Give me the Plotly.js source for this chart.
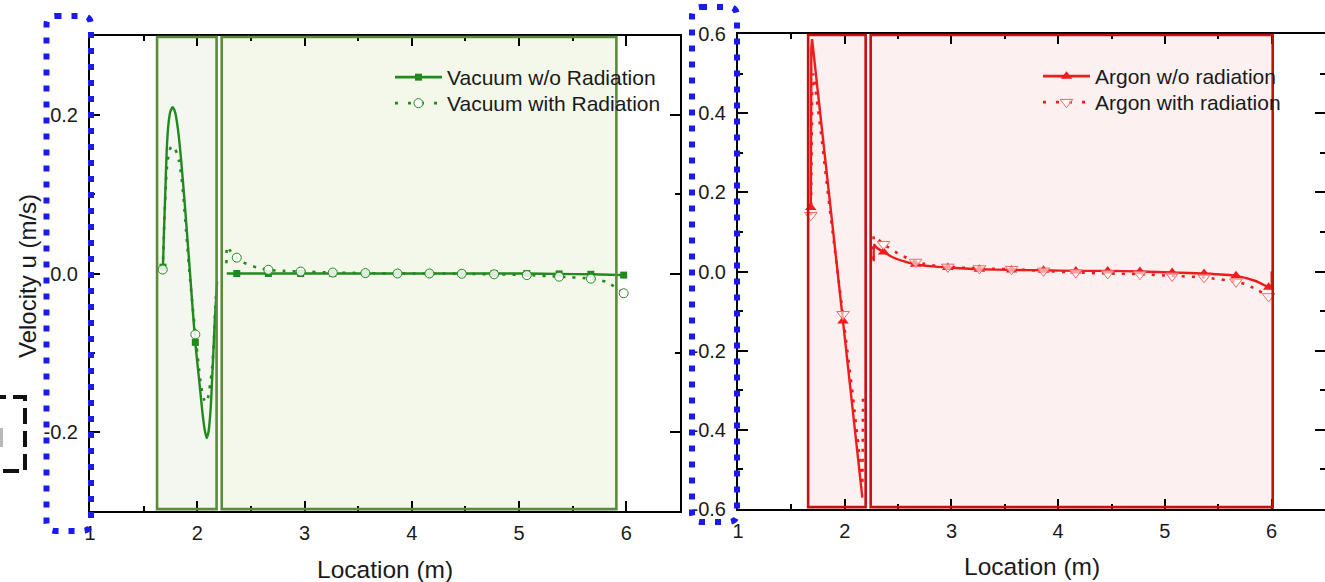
<!DOCTYPE html>
<html><head><meta charset="utf-8">
<script src="https://cdn.plot.ly/plotly-3.0.1.min.js"></script>
<style>html,body{margin:0;padding:0;background:#fff;}#chart{width:1325px;height:582px;}</style>
</head><body><div id="chart"></div>
<script>
// ---------- Left panel: Vacuum ----------
const vacNoRadSeg1X = [1.680,1.690,1.700,1.715,1.730,1.750,1.771,1.795,1.820,1.845,1.880,1.930,1.980,2.020,2.050,2.070,2.088,2.105,2.125,2.145,2.165,2.185];
const vacNoRadSeg1Y = [0.008,0.055,0.094,0.155,0.187,0.205,0.210,0.203,0.182,0.150,0.094,0.005,-0.085,-0.138,-0.178,-0.198,-0.208,-0.200,-0.170,-0.115,-0.055,-0.010];
const vacNoRadSeg2X = [2.275,2.368,2.663,2.964,3.263,3.567,3.866,4.164,4.466,4.767,5.072,5.373,5.669,5.850,5.975];
const vacNoRadSeg2Y = [0.000,0.000,0.000,0.000,0.000,0.000,0.000,0.000,0.000,0.000,0.000,-0.0005,-0.001,-0.0015,-0.002];
const vacNoRadMarkX = [1.680,1.982,2.368,2.663,2.964,3.263,3.567,3.866,4.164,4.466,4.767,5.072,5.373,5.669,5.975];
const vacNoRadMarkY = [0.008,-0.087,0.000,0.000,0.000,0.000,0.000,0.000,0.000,0.000,0.000,0.000,-0.0005,-0.001,-0.002];

const vacRadSeg1X = [1.678,1.688,1.697,1.706,1.718,1.735,1.755,1.771,1.790,1.810,1.830,1.850,1.870,1.895,1.935,1.982,2.010,2.035,2.060,2.080,2.100,2.120,2.140,2.155,2.165,2.175];
const vacRadSeg1Y = [0.005,0.045,0.080,0.110,0.135,0.152,0.160,0.161,0.158,0.152,0.142,0.125,0.098,0.055,-0.010,-0.077,-0.113,-0.142,-0.158,-0.163,-0.157,-0.140,-0.117,-0.085,-0.053,-0.025];
const vacRadSeg2X = [2.272,2.278,2.300,2.330,2.368,2.430,2.555,2.663,2.800,2.964,3.263,3.567,3.866,4.164,4.466,4.767,5.072,5.373,5.669,5.820,5.975];
const vacRadSeg2Y = [0.013,0.034,0.030,0.025,0.020,0.014,0.0076,0.0046,0.0033,0.0025,0.0012,0.0005,0.000,0.000,-0.0003,-0.001,-0.002,-0.004,-0.0065,-0.011,-0.025];
const vacRadMarkX = [1.678,1.982,2.368,2.663,2.964,3.263,3.567,3.866,4.164,4.466,4.767,5.072,5.373,5.669,5.975];
const vacRadMarkY = [0.005,-0.077,0.020,0.0046,0.0025,0.0012,0.0005,0.000,0.000,-0.0003,-0.001,-0.002,-0.004,-0.0065,-0.025];

// ---------- Right panel: Argon ----------
const arNoRadSeg1X = [1.682,1.683,1.687,1.694,1.705,1.800,1.900,1.984,2.080,2.165];
const arNoRadSeg1Y = [0.162,0.450,0.565,0.587,0.560,0.328,0.082,-0.125,-0.360,-0.571];
const arNoRadSeg2X = [2.272,2.276,2.300,2.364,2.450,2.550,2.664,2.800,2.966,3.262,3.563,3.863,4.165,4.464,4.766,5.068,5.367,5.666,5.850,5.972,5.995,6.000];
const arNoRadSeg2Y = [0.026,0.068,0.060,0.0495,0.036,0.026,0.0184,0.0135,0.010,0.0058,0.004,0.003,0.0015,0.0015,0.000,-0.0025,-0.005,-0.011,-0.024,-0.040,-0.042,0.000];
const arNoRadMarkX = [1.682,1.984,2.364,2.664,2.966,3.262,3.563,3.863,4.165,4.464,4.766,5.068,5.367,5.666,5.972];
const arNoRadMarkY = [0.162,-0.125,0.0495,0.0184,0.010,0.0058,0.004,0.003,0.0015,0.0015,0.000,-0.0025,-0.005,-0.011,-0.040];

const arRadSeg1X = [1.684,1.688,1.695,1.705,1.715,1.740,1.780,1.850,1.984,2.070,2.120,2.155,2.166,2.172];
const arRadSeg1Y = [0.142,0.350,0.460,0.500,0.490,0.430,0.345,0.180,-0.108,-0.300,-0.420,-0.510,-0.540,-0.310];
const arRadSeg2X = [2.270,2.275,2.300,2.364,2.498,2.607,2.664,2.730,2.857,2.966,3.262,3.563,3.863,4.165,4.464,4.766,5.068,5.367,5.666,5.754,5.862,5.972];
const arRadSeg2Y = [0.030,0.090,0.085,0.069,0.046,0.031,0.024,0.020,0.014,0.0116,0.0076,0.0058,0.0015,-0.0025,-0.005,-0.0068,-0.011,-0.015,-0.026,-0.032,-0.046,-0.063];
const arRadMarkX = [1.682,1.984,2.364,2.664,2.966,3.262,3.563,3.863,4.165,4.464,4.766,5.068,5.367,5.666,5.972];
const arRadMarkY = [0.142,-0.108,0.069,0.024,0.0116,0.0076,0.0058,0.0015,-0.0025,-0.005,-0.0068,-0.011,-0.015,-0.026,-0.063];

// ---------- Shaded regions (x extents) ----------
const vacRegionStart = [1.625, 2.228];
const vacRegionEnd   = [2.180, 5.907];
const arRegionStart  = [1.657, 2.243];
const arRegionEnd    = [2.196, 6.010];

// ---------- Ticks & labels ----------
const leftYTicks = [-0.2, 0.0, 0.2];
const leftYTickText = ["-0.2", "0.0", "0.2"];
const rightYTicks = [-0.6, -0.4, -0.2, 0.0, 0.2, 0.4, 0.6];
const rightYTickText = ["-0.6", "-0.4", "-0.2", "0.0", "0.2", "0.4", "0.6"];
const seriesNames = ["Vacuum w/o Radiation", "Vacuum with Radiation", "Argon w/o radiation", "Argon with radiation"];
const xTitle = "Location (m)";
const yTitle = "Velocity u (m/s)";

// ---------- Styling ----------
const W = 1325, H = 582;
const FONT = "Arial, 'Liberation Sans', sans-serif";
const GREEN = "#22891f";
const RED = "#f01c1c";
const REDLIGHT = "#ee6a6a";
const DOT = "3px,7px";
const TXT = "#1a1a1a";

function line(x, y, xa, ya, color, dash, shape) {
  return {x: x, y: y, xaxis: xa, yaxis: ya, mode: "lines", showlegend: false, hoverinfo: "skip",
          line: {color: color, width: dash ? 2.6 : 2.4, dash: dash || "solid", shape: shape || "spline", smoothing: 0.6}};
}
function marks(x, y, xa, ya, marker) {
  return {x: x, y: y, xaxis: xa, yaxis: ya, mode: "markers", showlegend: false, hoverinfo: "skip", marker: marker};
}
function legendItem(name, legend, panel, lineStyle, marker) {
  return {x: [null], y: [null], name: name, legend: legend, mode: "lines+markers", showlegend: true,
          line: lineStyle, marker: marker, xaxis: panel === 1 ? "x" : "x2", yaxis: panel === 1 ? "y" : "y2"};
}

const mSquare = {symbol: "square", size: 7, color: GREEN, line: {width: 0}};
const mCircle = {symbol: "circle", size: 9, color: "rgba(255,255,255,0.85)", line: {color: GREEN, width: 1}};
const mTriUp = {symbol: "triangle-up", size: 10, color: RED, line: {width: 0}};
const mTriDown = {symbol: "triangle-down", size: 11, color: "rgba(255,255,255,0.6)", line: {color: REDLIGHT, width: 1}};

const traces = [
  line(vacRadSeg1X, vacRadSeg1Y, "x", "y", GREEN, DOT),
  line(vacRadSeg2X, vacRadSeg2Y, "x", "y", GREEN, DOT),
  line(vacNoRadSeg1X, vacNoRadSeg1Y, "x", "y", GREEN),
  line(vacNoRadSeg2X, vacNoRadSeg2Y, "x", "y", GREEN),
  marks(vacNoRadMarkX, vacNoRadMarkY, "x", "y", mSquare),
  marks(vacRadMarkX, vacRadMarkY, "x", "y", mCircle),
  line(arRadSeg1X, arRadSeg1Y, "x2", "y2", RED, DOT, "linear"),
  line(arRadSeg2X, arRadSeg2Y, "x2", "y2", RED, DOT),
  line(arNoRadSeg1X, arNoRadSeg1Y, "x2", "y2", RED, null, "linear"),
  line(arNoRadSeg2X, arNoRadSeg2Y, "x2", "y2", RED),
  marks(arNoRadMarkX, arNoRadMarkY, "x2", "y2", mTriUp),
  marks(arRadMarkX, arRadMarkY, "x2", "y2", mTriDown),
  legendItem(seriesNames[0], "legend", 1, {color: GREEN, width: 2.6}, mSquare),
  legendItem(seriesNames[1], "legend2", 1, {color: GREEN, width: 2.6, dash: "3px,10px"}, mCircle),
  legendItem(seriesNames[2], "legend3", 2, {color: RED, width: 2.6}, mTriUp),
  legendItem(seriesNames[3], "legend4", 2, {color: RED, width: 2.6, dash: "3px,10px"}, mTriDown)
];

// ---------- Shapes ----------
const shapes = [];
function regions(starts, ends, xref, yref, fills, border) {
  for (let i = 0; i < starts.length; i++) {
    shapes.push({type: "rect", xref: xref, yref: yref + " domain", x0: starts[i], x1: ends[i], y0: 0.004, y1: 0.998,
                 fillcolor: fills[i], line: {width: 0}, layer: "below"});
    shapes.push({type: "rect", xref: xref, yref: yref + " domain", x0: starts[i], x1: ends[i], y0: 0.004, y1: 0.998,
                 fillcolor: "rgba(0,0,0,0)", line: {color: border, width: 2.6}, layer: "above"});
  }
}
regions(vacRegionStart, vacRegionEnd, "x", "y", ["#f3f7f0", "#f3f8ea"], "#5a8a3c");
regions(arRegionStart, arRegionEnd, "x2", "y2", ["#fdf0f0", "#fdf0f0"], "#c81010");

function px(x) { return (x / W).toFixed(5); }
function py(y) { return (1 - y / H).toFixed(5); }
function roundRect(x0, y0, x1, y1, r) {
  return "M" + px(x0 + r) + "," + py(y0) + " L" + px(x1 - r) + "," + py(y0) +
    " Q" + px(x1) + "," + py(y0) + " " + px(x1) + "," + py(y0 + r) +
    " L" + px(x1) + "," + py(y1 - r) +
    " Q" + px(x1) + "," + py(y1) + " " + px(x1 - r) + "," + py(y1) +
    " L" + px(x0 + r) + "," + py(y1) +
    " Q" + px(x0) + "," + py(y1) + " " + px(x0) + "," + py(y1 - r) +
    " L" + px(x0) + "," + py(y0 + r) +
    " Q" + px(x0) + "," + py(y0) + " " + px(x0 + r) + "," + py(y0) + " Z";
}
const BLUE = "#1a1aeb";
shapes.push({type: "path", xref: "paper", yref: "paper", path: roundRect(46.5, 16, 91, 531, 9),
             line: {color: BLUE, width: 6, dash: "6px,10px"}, layer: "above"});
shapes.push({type: "path", xref: "paper", yref: "paper", path: roundRect(692, 7, 737, 522, 9),
             line: {color: BLUE, width: 6, dash: "6px,10px"}, layer: "above"});
shapes.push({type: "rect", xref: "paper", yref: "paper", x0: px(-20), x1: px(25), y0: py(471), y1: py(397),
             line: {color: "#111", width: 4, dash: "16px,7px"}, layer: "above"});
shapes.push({type: "rect", xref: "paper", yref: "paper", x0: px(-2), x1: px(3), y0: py(447), y1: py(428),
             fillcolor: "#b8b8b8", line: {width: 0}, layer: "above"});

// ---------- Axes ----------
const axisCommon = {showline: true, linecolor: "#000", linewidth: 2, mirror: "ticks", ticks: "inside",
  ticklen: 10, tickwidth: 2, tickcolor: "#000", showgrid: false, zeroline: false,
  tickfont: {family: FONT, size: 20, color: TXT}};
function xAxis(domain, anchor) {
  return Object.assign({}, axisCommon, {domain: domain, anchor: anchor, range: [1, 6.5], tickmode: "linear", tick0: 1, dtick: 1,
    ticklabelstandoff: 3,
    minor: {tickmode: "linear", tick0: 1, dtick: 0.5, ticks: "inside", ticklen: 5, tickwidth: 2, tickcolor: "#000"}});
}
function yAxis(domain, anchor, range, vals, text, standoff) {
  return Object.assign({}, axisCommon, {domain: domain, anchor: anchor, range: range, tickmode: "array", tickvals: vals, ticktext: text,
    ticklabelstandoff: standoff,
    minor: {tickmode: "linear", tick0: range[0], dtick: 0.1, ticks: "inside", ticklen: 5, tickwidth: 2, tickcolor: "#000"}});
}
function legendBox(xPx, yTopPx) {
  return {x: xPx / W, y: 1 - yTopPx / H, xanchor: "left", yanchor: "top", bgcolor: "rgba(0,0,0,0)",
          font: {family: FONT, size: 21, color: TXT}, itemwidth: 47};
}

const layout = {
  width: W, height: H, margin: {l: 0, r: 0, t: 0, b: 0}, paper_bgcolor: "#fff", plot_bgcolor: "#fff",
  font: {family: FONT, color: TXT},
  xaxis: xAxis([90 / W, 680 / W], "y"),
  yaxis: yAxis([71 / H, 546 / H], "x", [-0.3, 0.3], leftYTicks, leftYTickText, 6),
  xaxis2: xAxis([738 / W, 1], "y2"),
  yaxis2: yAxis([73 / H, 548 / H], "x2", [-0.6, 0.6], rightYTicks, rightYTickText, 6),
  legend: legendBox(390, 57),
  legend2: legendBox(390, 83),
  legend3: legendBox(1038, 56),
  legend4: legendBox(1038, 82),
  shapes: shapes,
  annotations: [
    {text: xTitle, xref: "paper", yref: "paper", x: 385 / W, y: 1 - 569 / H, xanchor: "center", yanchor: "middle", showarrow: false, font: {family: FONT, size: 24.5, color: TXT}},
    {text: xTitle, xref: "paper", yref: "paper", x: 1032 / W, y: 1 - 566 / H, xanchor: "center", yanchor: "middle", showarrow: false, font: {family: FONT, size: 24.5, color: TXT}},
    {text: yTitle, xref: "paper", yref: "paper", x: 27 / W, y: 1 - 276 / H, xanchor: "center", yanchor: "middle", showarrow: false, textangle: -90, font: {family: FONT, size: 24, color: TXT}}
  ]
};

Plotly.newPlot("chart", traces, layout, {staticPlot: true, displayModeBar: false});
</script></body></html>
